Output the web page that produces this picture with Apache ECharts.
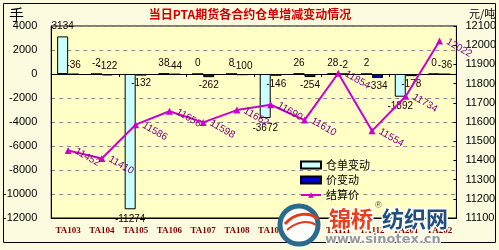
<!DOCTYPE html>
<html><head><meta charset="utf-8">
<script src="https://cdn.jsdelivr.net/npm/echarts@6/dist/echarts.min.js"></script>
<style>html,body{margin:0;padding:0;background:#fcfbe0}#c{width:499px;height:250px}</style>
</head><body><div id="c"></div>
<script>
// ---- data ----
const categories = ['TA103','TA104','TA105','TA106','TA107','TA108','TA109','TA110','TA111','TA112','TA201','TA202'];
const warrantChange = [3134, -2, -11274, 38, 0, 8, -3672, 26, 28, 2, -1892, 0];      // 仓单变动 (手)
const priceChange   = [-36, -122, -132, -44, -262, -100, -146, -254, -2, -334, -178, -36]; // 价变动
const settlePrice   = [11452, 11410, 11586, 11656, 11598, 11662, 11690, 11610, 11854, 11554, 11734, 12022]; // 结算价 (元/吨)
const leftAxisRange  = [-12000, 4000, 2000];
const rightAxisRange = [11100, 12100, 100];
const seriesNames = ['仓单变动','价变动','结算价'];

const numFont = 'Liberation Sans';
const cjkFont = 'Noto Sans CJK SC';

const chart = echarts.init(document.getElementById('c'), null, {renderer:'canvas'});

const barLabel = (pos, dist) => ({
  show: true, position: pos, distance: dist,
  color: '#1a0000', fontSize: 10, fontFamily: numFont
});
const plain = v => String(v);

const option = {
  animation: false,
  backgroundColor: '#fcfbe0',
  grid: {
    left: 50, right: 41, top: 26, bottom: 32,
    show: true, backgroundColor: '#ffffc6', borderColor: '#000', borderWidth: 1
  },
  legend: {
    orient: 'vertical', left: 295, top: 154,
    itemWidth: 20, itemHeight: 7, itemGap: 3,
    textStyle: { fontSize: 11, fontFamily: cjkFont, color: '#000', lineHeight: 12 },
    data: [
      { name: seriesNames[0], icon: 'rect' },
      { name: seriesNames[1], icon: 'rect' },
      { name: seriesNames[2] }
    ]
  },
  xAxis: [
    {
      type: 'category', data: categories, position: 'bottom',
      axisLine: { onZero: false, lineStyle: { color: '#000' } },
      axisTick: { show: false },
      axisLabel: { color: '#800000', fontSize: 9, fontWeight: 'bold', fontFamily: 'Liberation Serif', margin: 8 },
      splitLine: { show: false }
    },
    {
      type: 'category', data: categories, position: 'top',
      axisLine: { show: true, onZero: true, onZeroAxisIndex: 0, lineStyle: { color: '#000', width: 1 } },
      axisTick: { show: true, length: 3, inside: true, lineStyle: { color: '#000' } },
      axisLabel: { show: false },
      splitLine: { show: false }
    }
  ],
  yAxis: [
    {
      type: 'value', position: 'left',
      min: leftAxisRange[0], max: leftAxisRange[1], interval: leftAxisRange[2],
      axisLine: { show: true, lineStyle: { color: '#000' } },
      axisTick: { show: false },
      axisLabel: { color: '#000', fontSize: 11, fontFamily: numFont, margin: 14, formatter: plain },
      splitLine: { show: true, lineStyle: { color: '#8a8a8a', type: [4, 4], width: 1 } }
    },
    {
      type: 'value', position: 'right',
      min: rightAxisRange[0], max: rightAxisRange[1], interval: rightAxisRange[2],
      axisLine: { show: true, lineStyle: { color: '#000' } },
      axisTick: { show: true, inside: true, length: 3, lineStyle: { color: '#000' } },
      axisLabel: { color: '#000', fontSize: 11, fontFamily: numFont, margin: 9, formatter: plain },
      splitLine: { show: false }
    }
  ],
  series: [
    {
      name: seriesNames[0], type: 'bar', xAxisIndex: 0, yAxisIndex: 0,
      barWidth: 11, barGap: '0%',
      itemStyle: { color: '#ccffff', borderColor: '#000', borderWidth: 1 },
      data: warrantChange.map(v => ({ value: v, label: barLabel(v > -100 ? 'top' : 'bottom', 5) })),
      z: 2
    },
    {
      name: seriesNames[1], type: 'bar', xAxisIndex: 0, yAxisIndex: 0,
      barWidth: 11, barGap: '0%',
      itemStyle: { color: '#0000cc', borderColor: '#000', borderWidth: 1 },
      data: priceChange.map(v => ({ value: v, label: barLabel(v > -125 ? 'top' : 'bottom', 3) })),
      z: 2
    },
    {
      name: seriesNames[2], type: 'line', xAxisIndex: 0, yAxisIndex: 1,
      data: settlePrice,
      symbol: 'triangle', symbolSize: 7,
      lineStyle: { color: '#cc00cc', width: 2 },
      itemStyle: { color: '#cc00cc' },
      label: {
        show: true, position: 'right', distance: 4, rotate: -30,
        color: '#800080', fontSize: 10, fontFamily: numFont
      },
      z: 5
    }
  ],
  graphic: [
    { type: 'rect', z: 100, shape: { x: 3.5, y: 3.5, width: 492, height: 239 },
      style: { fill: null, stroke: '#000', lineWidth: 1 } },
    { type: 'text', z: 100, x: 250, y: 14,
      style: { text: '当日PTA期货各合约仓单增减变动情况', fill: '#d00000', fontSize: 12, fontWeight: 'bold',
               fontFamily: cjkFont, align: 'center', verticalAlign: 'middle' } },
    { type: 'text', z: 100, x: 9, y: 14,
      style: { text: '手', fill: '#000', fontSize: 15, fontFamily: cjkFont, align: 'left', verticalAlign: 'middle' } },
    { type: 'text', z: 100, x: 469, y: 14,
      style: { text: '元/吨', fill: '#000', fontSize: 11, fontFamily: cjkFont, align: 'left', verticalAlign: 'middle' } },
    // watermark logo
    { type: 'circle', z: 110, shape: { cx: 299, cy: 225, r: 19 },
      style: { fill: '#ffffff', stroke: '#2a6a8c', lineWidth: 5 } },
    { type: 'bezierCurve', z: 111, shape: { x1: 285, y1: 224, x2: 318, y2: 219, cpx1: 295, cpy1: 212, cpx2: 310, cpy2: 212 },
      style: { fill: null, stroke: '#e23b1a', lineWidth: 3 } },
    { type: 'bezierCurve', z: 111, shape: { x1: 287, y1: 230, x2: 316, y2: 225, cpx1: 297, cpy1: 221, cpx2: 309, cpy2: 220 },
      style: { fill: null, stroke: '#e23b1a', lineWidth: 2 } },
    { type: 'text', z: 111, x: 329, y: 219,
      style: { text: '锦桥', fill: '#e8401c', fontSize: 22, fontWeight: 'bold', fontFamily: cjkFont,
               align: 'left', verticalAlign: 'middle', stroke: '#fff', lineWidth: 3 } },
    { type: 'text', z: 111, x: 375, y: 206,
      style: { text: '®', fill: '#555', fontSize: 9, fontFamily: numFont, align: 'left', verticalAlign: 'middle' } },
    { type: 'text', z: 111, x: 382, y: 219,
      style: { text: '纺织网', fill: '#1f4f7a', fontSize: 22, fontWeight: 'bold', fontFamily: cjkFont,
               align: 'left', verticalAlign: 'middle', stroke: '#fff', lineWidth: 3 } },
    { type: 'text', z: 111, x: 325, y: 240,
      style: { text: 'www.sinotex.cn', fill: '#9a9a9a', fontSize: 13, fontWeight: 'bold', fontFamily: 'DejaVu Sans',
               align: 'left', verticalAlign: 'middle', stroke: '#fff', lineWidth: 2 } }
  ]
};
chart.setOption(option);
</script>
</body></html>
